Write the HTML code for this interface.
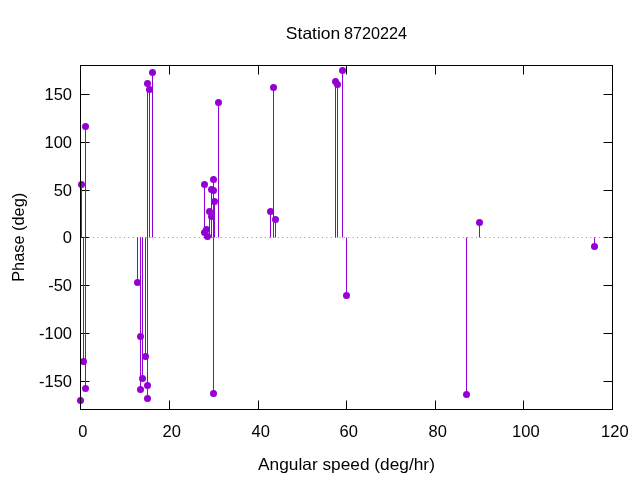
<!DOCTYPE html><html><head><meta charset="utf-8"><style>html,body{margin:0;padding:0;background:#fff;}svg{display:block;will-change:transform;}text{font-family:"Liberation Sans",sans-serif;fill:#000;}</style></head><body>
<svg width="640" height="480" viewBox="0 0 640 480">
<rect width="640" height="480" fill="#fff"/>
<path d="M80.5 94.5H89.5M612.5 94.5H603.5M80.5 142.5H89.5M612.5 142.5H603.5M80.5 190.5H89.5M612.5 190.5H603.5M80.5 237.5H89.5M612.5 237.5H603.5M80.5 285.5H89.5M612.5 285.5H603.5M80.5 333.5H89.5M612.5 333.5H603.5M80.5 381.5H89.5M612.5 381.5H603.5M80.5 409.5V400.5M80.5 65.5V74.5M169.5 409.5V400.5M169.5 65.5V74.5M258.5 409.5V400.5M258.5 65.5V74.5M346.5 409.5V400.5M346.5 65.5V74.5M435.5 409.5V400.5M435.5 65.5V74.5M523.5 409.5V400.5M523.5 65.5V74.5M612.5 409.5V400.5M612.5 65.5V74.5" stroke="#000" stroke-width="1" fill="none"/>
<path d="M80.5 237.5H612.5" stroke="#8c8c8c" stroke-width="1" stroke-dasharray="1 3.4" stroke-dashoffset="0.6" fill="none"/>
<path d="M80.5 237.5V400.5M81.5 237.5V184.5M83.5 237.5V361.5M85.5 237.5V126.5M85.5 237.5V388.5M137.5 237.5V282.5M140.5 237.5V336.5M140.5 237.5V389.5M142.5 237.5V378.5M145.5 237.5V356.5M147.5 237.5V385.5M147.5 237.5V398.5M147.5 237.5V83.5M149.5 237.5V89.5M152.5 237.5V72.5M204.5 237.5V184.5M204.5 237.5V232.5M206.5 237.5V229.5M207.5 237.5V236.5M209.5 237.5V211.5M211.5 237.5V189.5M211.5 237.5V216.5M213.5 237.5V179.5M213.5 237.5V190.5M213.5 237.5V393.5M214.5 237.5V201.5M218.5 237.5V102.5M270.5 237.5V211.5M273.5 237.5V87.5M275.5 237.5V219.5M335.5 237.5V81.5M337.5 237.5V84.5M342.5 237.5V70.5M346.5 237.5V295.5M466.5 237.5V394.5M479.5 237.5V222.5M594.5 237.5V246.5" stroke="#9400d3" stroke-width="1" fill="none"/>
<circle cx="80.5" cy="400.5" r="3.5" fill="#9400d3"/>
<circle cx="81.5" cy="184.5" r="3.5" fill="#9400d3"/>
<circle cx="83.5" cy="361.5" r="3.5" fill="#9400d3"/>
<circle cx="85.5" cy="126.5" r="3.5" fill="#9400d3"/>
<circle cx="85.5" cy="388.5" r="3.5" fill="#9400d3"/>
<circle cx="137.5" cy="282.5" r="3.5" fill="#9400d3"/>
<circle cx="140.5" cy="336.5" r="3.5" fill="#9400d3"/>
<circle cx="140.5" cy="389.5" r="3.5" fill="#9400d3"/>
<circle cx="142.5" cy="378.5" r="3.5" fill="#9400d3"/>
<circle cx="145.5" cy="356.5" r="3.5" fill="#9400d3"/>
<circle cx="147.5" cy="385.5" r="3.5" fill="#9400d3"/>
<circle cx="147.5" cy="398.5" r="3.5" fill="#9400d3"/>
<circle cx="147.5" cy="83.5" r="3.5" fill="#9400d3"/>
<circle cx="149.5" cy="89.5" r="3.5" fill="#9400d3"/>
<circle cx="152.5" cy="72.5" r="3.5" fill="#9400d3"/>
<circle cx="204.5" cy="184.5" r="3.5" fill="#9400d3"/>
<circle cx="204.5" cy="232.5" r="3.5" fill="#9400d3"/>
<circle cx="206.5" cy="229.5" r="3.5" fill="#9400d3"/>
<circle cx="207.5" cy="236.5" r="3.5" fill="#9400d3"/>
<circle cx="209.5" cy="211.5" r="3.5" fill="#9400d3"/>
<circle cx="211.5" cy="189.5" r="3.5" fill="#9400d3"/>
<circle cx="211.5" cy="216.5" r="3.5" fill="#9400d3"/>
<circle cx="213.5" cy="179.5" r="3.5" fill="#9400d3"/>
<circle cx="213.5" cy="190.5" r="3.5" fill="#9400d3"/>
<circle cx="213.5" cy="393.5" r="3.5" fill="#9400d3"/>
<circle cx="214.5" cy="201.5" r="3.5" fill="#9400d3"/>
<circle cx="218.5" cy="102.5" r="3.5" fill="#9400d3"/>
<circle cx="270.5" cy="211.5" r="3.5" fill="#9400d3"/>
<circle cx="273.5" cy="87.5" r="3.5" fill="#9400d3"/>
<circle cx="275.5" cy="219.5" r="3.5" fill="#9400d3"/>
<circle cx="335.5" cy="81.5" r="3.5" fill="#9400d3"/>
<circle cx="337.5" cy="84.5" r="3.5" fill="#9400d3"/>
<circle cx="342.5" cy="70.5" r="3.5" fill="#9400d3"/>
<circle cx="346.5" cy="295.5" r="3.5" fill="#9400d3"/>
<circle cx="466.5" cy="394.5" r="3.5" fill="#9400d3"/>
<circle cx="479.5" cy="222.5" r="3.5" fill="#9400d3"/>
<circle cx="594.5" cy="246.5" r="3.5" fill="#9400d3"/>
<rect x="80.5" y="65.5" width="532" height="344" fill="none" stroke="#000" stroke-width="1"/>
<text x="72" y="99.7" font-size="16.5" text-anchor="end">150</text>
<text x="72" y="147.7" font-size="16.5" text-anchor="end">100</text>
<text x="72" y="195.7" font-size="16.5" text-anchor="end">50</text>
<text x="72" y="242.7" font-size="16.5" text-anchor="end">0</text>
<text x="72" y="290.7" font-size="16.5" text-anchor="end">-50</text>
<text x="72" y="338.7" font-size="16.5" text-anchor="end">-100</text>
<text x="72" y="386.7" font-size="16.5" text-anchor="end">-150</text>
<text x="82.8" y="436.9" font-size="16.5" text-anchor="middle">0</text>
<text x="171.8" y="436.9" font-size="16.5" text-anchor="middle">20</text>
<text x="260.8" y="436.9" font-size="16.5" text-anchor="middle">40</text>
<text x="348.8" y="436.9" font-size="16.5" text-anchor="middle">60</text>
<text x="437.8" y="436.9" font-size="16.5" text-anchor="middle">80</text>
<text x="525.8" y="436.9" font-size="16.5" text-anchor="middle">100</text>
<text x="614.8" y="436.9" font-size="16.5" text-anchor="middle">120</text>
<text x="285.85" y="39" font-size="16.5" textLength="54.5" lengthAdjust="spacingAndGlyphs">Station</text>
<text x="344.0" y="39" font-size="16.5" textLength="63.1" lengthAdjust="spacingAndGlyphs">8720224</text>
<text x="346.5" y="470" font-size="16.5" text-anchor="middle" textLength="176.8" lengthAdjust="spacingAndGlyphs">Angular speed (deg/hr)</text>
<text x="0" y="0" font-size="16.5" text-anchor="middle" textLength="89" lengthAdjust="spacingAndGlyphs" transform="translate(24 237.3) rotate(-90)">Phase (deg)</text>
</svg></body></html>
